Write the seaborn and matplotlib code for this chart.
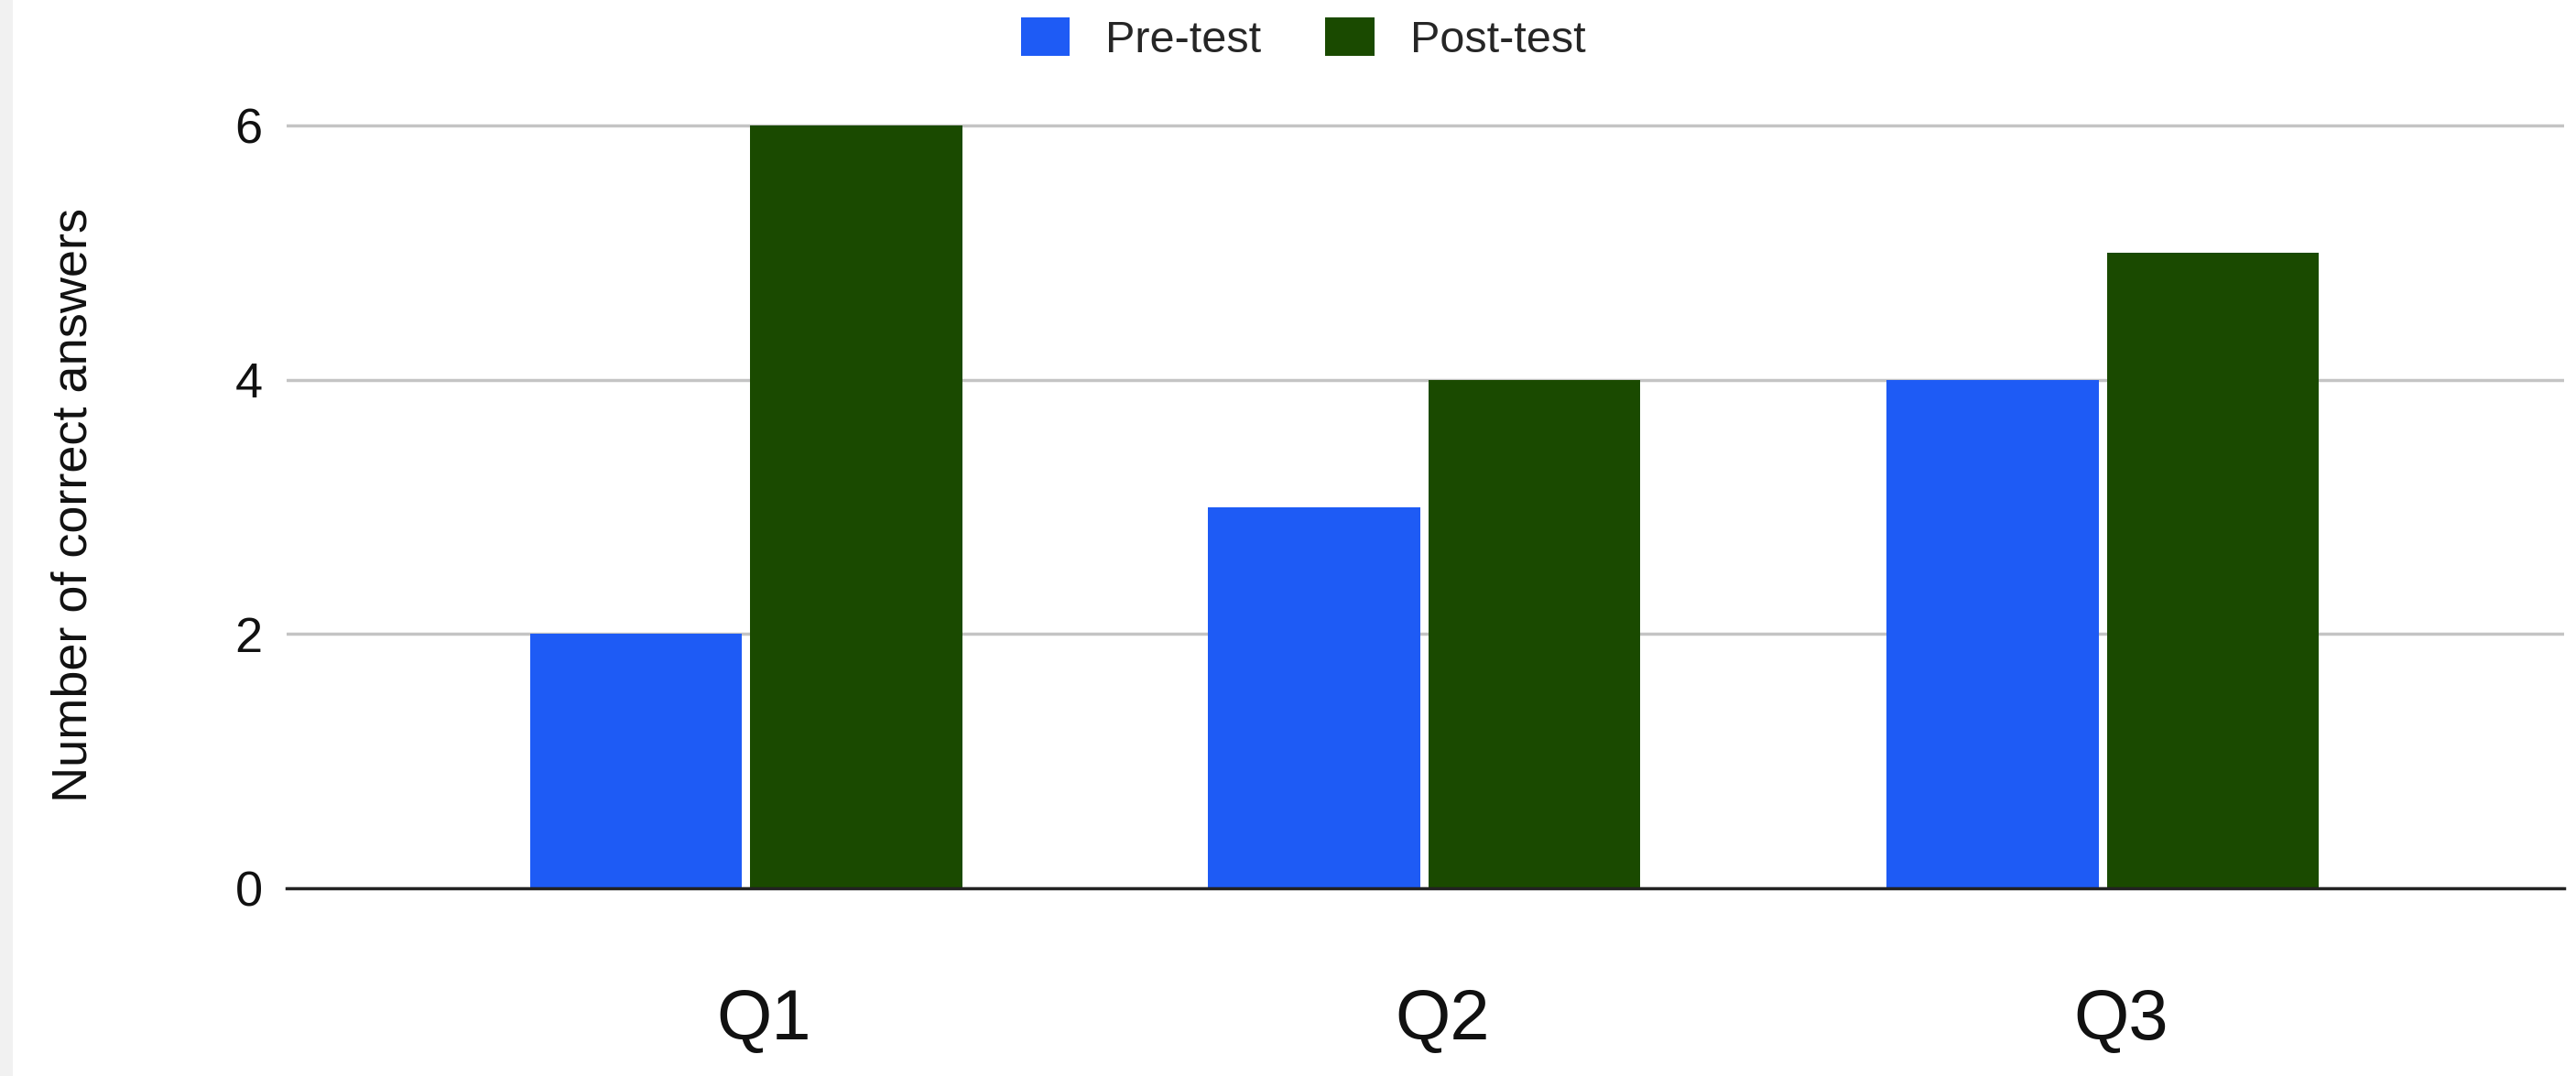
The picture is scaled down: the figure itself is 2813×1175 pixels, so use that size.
import matplotlib
matplotlib.use("Agg")
import matplotlib.pyplot as plt
import matplotlib.transforms as mtransforms
from matplotlib.patches import Patch, Rectangle
import pandas as pd
import seaborn as sns

# Survey results: number of correct answers per question
questions = ["Q1", "Q2", "Q3"]
pre_test = [2, 3, 4]
post_test = [6, 4, 5]
series_names = ["Pre-test", "Post-test"]
y_ticks = [0, 2, 4, 6]
y_label = "Number of correct answers"

colors = {"Pre-test": "#1E5BF5", "Post-test": "#1A4A00"}

df = pd.DataFrame({
    "Question": questions * 2,
    "Score": pre_test + post_test,
    "Test": [series_names[0]] * len(questions) + [series_names[1]] * len(questions),
})

sns.set_theme(style="white")
plt.rcParams["font.family"] = ["Liberation Sans", "DejaVu Sans"]

W, H = 2813, 1175
fig = plt.figure(figsize=(W / 100, H / 100), dpi=100)
fig.patch.set_facecolor("white")

# thin grey strip along the left border
fig.patches.append(Rectangle((0, 0), 14 / W, 1, transform=fig.transFigure,
                             facecolor="#F1F1F1", edgecolor="none", zorder=0))

ax_left, ax_right = 313 / W, 2800 / W
ax_bottom, ax_top = 1 - 970 / H, 1 - 133 / H
ax = fig.add_axes([ax_left, ax_bottom, ax_right - ax_left, ax_top - ax_bottom])

sns.barplot(data=df, x="Question", y="Score", hue="Test", order=questions,
            hue_order=series_names, palette=colors, width=0.649, gap=0.037,
            saturation=1.0, legend=False, ax=ax, zorder=3, linewidth=0)

ax.set_xlim(-0.677, 2.680)
ax.set_ylim(0, 6.03)
ax.set_yticks(y_ticks)
ax.set_yticklabels([str(t) for t in y_ticks])

ax.grid(axis="y", color="#C4C4C4", linewidth=2.5, zorder=0)
ax.grid(axis="x", visible=False)
ax.set_axisbelow(True)

for side in ["top", "right", "left"]:
    ax.spines[side].set_visible(False)
ax.spines["bottom"].set_color("#222222")
ax.spines["bottom"].set_linewidth(2.5)
ax.spines["bottom"].set_zorder(4)

ax.tick_params(axis="y", length=0, pad=19, labelsize=39, labelcolor="#111111")
ax.tick_params(axis="x", length=0, pad=78, labelsize=56, labelcolor="#111111")

# category labels sit slightly right of the group centres
shift = mtransforms.ScaledTranslation(0.2, 0, fig.dpi_scale_trans)
for lbl in ax.get_xticklabels():
    lbl.set_transform(lbl.get_transform() + shift)

ax.set_xlabel("")
ax.set_ylabel(y_label, fontsize=39, color="#111111")
ax.yaxis.set_label_coords(-0.0933, 0.5)
ax.yaxis.label.set_va("center")

handles = [Patch(facecolor=colors[n], edgecolor="none", label=n) for n in series_names]
fig.legend(handles=handles, loc="center", bbox_to_anchor=(1423 / W, 1 - 43 / H),
           ncol=2, frameon=False, fontsize=35, handlelength=1.1, handleheight=0.95,
           handletextpad=0.8, columnspacing=1.45, borderpad=0, borderaxespad=0)

fig.savefig("out.png", dpi=100, facecolor="white")
